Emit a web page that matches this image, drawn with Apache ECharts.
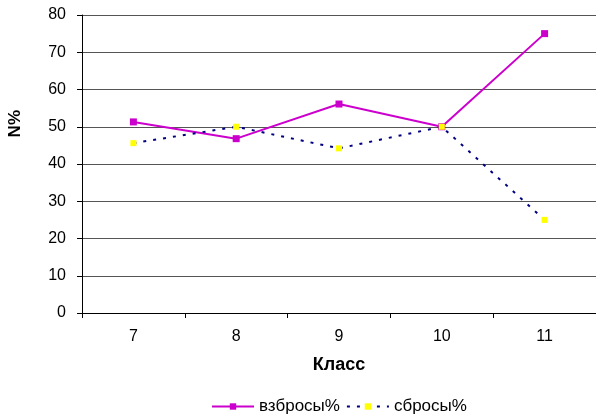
<!DOCTYPE html>
<html><head><meta charset="utf-8">
<script src="https://cdn.jsdelivr.net/npm/echarts@6/dist/echarts.min.js"></script>
<style>html,body{margin:0;padding:0;background:#fff}#c{width:596px;height:417px}</style>
</head><body><div id="c"></div>
<script>
const categories = ['7', '8', '9', '10', '11'];
const vzbrosy = [51.3, 46.8, 56.1, 50, 75];
const sbrosy = [45.6, 50, 44.2, 50, 25];
const yTicks = {min: 0, max: 80, interval: 10};
const seriesNames = ['взбросы%', 'сбросы%'];

const chart = echarts.init(document.getElementById('c'), null, {renderer: 'canvas'});
const font = 'Liberation Sans, Arial, sans-serif';
chart.setOption({
  animation: false,
  backgroundColor: '#fff',
  grid: {left: 82, right: 0, top: 15, bottom: 104},
  xAxis: {
    type: 'category', data: categories, boundaryGap: true,
    name: 'Класс', nameLocation: 'middle', nameGap: 43,
    nameTextStyle: {fontFamily: font, fontSize: 18, fontWeight: 'bold', color: '#000'},
    axisLine: {lineStyle: {color: '#000', width: 1}},
    axisTick: {show: true, length: 5, lineStyle: {color: '#000'}},
    axisLabel: {fontFamily: font, fontSize: 16, color: '#000', margin: 16},
    splitLine: {show: false}
  },
  yAxis: {
    type: 'value', min: yTicks.min, max: yTicks.max, interval: yTicks.interval,
    axisLine: {show: true, lineStyle: {color: '#000', width: 1}},
    axisTick: {show: true, length: 5, lineStyle: {color: '#000'}},
    axisLabel: {fontFamily: font, fontSize: 16, color: '#000', margin: 16},
    splitLine: {show: true, lineStyle: {color: '#555', width: 1}}
  },
  legend: {
    top: 393, left: 206, itemWidth: 42, itemHeight: 8, itemGap: 6,
    textStyle: {fontFamily: font, fontSize: 17, color: '#000'},
    data: seriesNames
  },
  graphic: [{
    type: 'text', left: 7, top: 110, rotation: Math.PI / 2,
    style: {text: 'N%', font: 'bold 17px ' + font, fill: '#000'}
  }],
  series: [{
    name: seriesNames[0], type: 'line', data: vzbrosy,
    symbol: 'rect', symbolSize: 7,
    lineStyle: {color: '#CC00CC', width: 2},
    itemStyle: {color: '#CC00CC'}
  }, {
    name: seriesNames[1], type: 'line', data: sbrosy,
    symbol: 'rect', symbolSize: 6,
    lineStyle: {color: '#000080', width: 2, type: [3, 7]},
    itemStyle: {color: '#FFFF00'}
  }]
});
</script></body></html>
